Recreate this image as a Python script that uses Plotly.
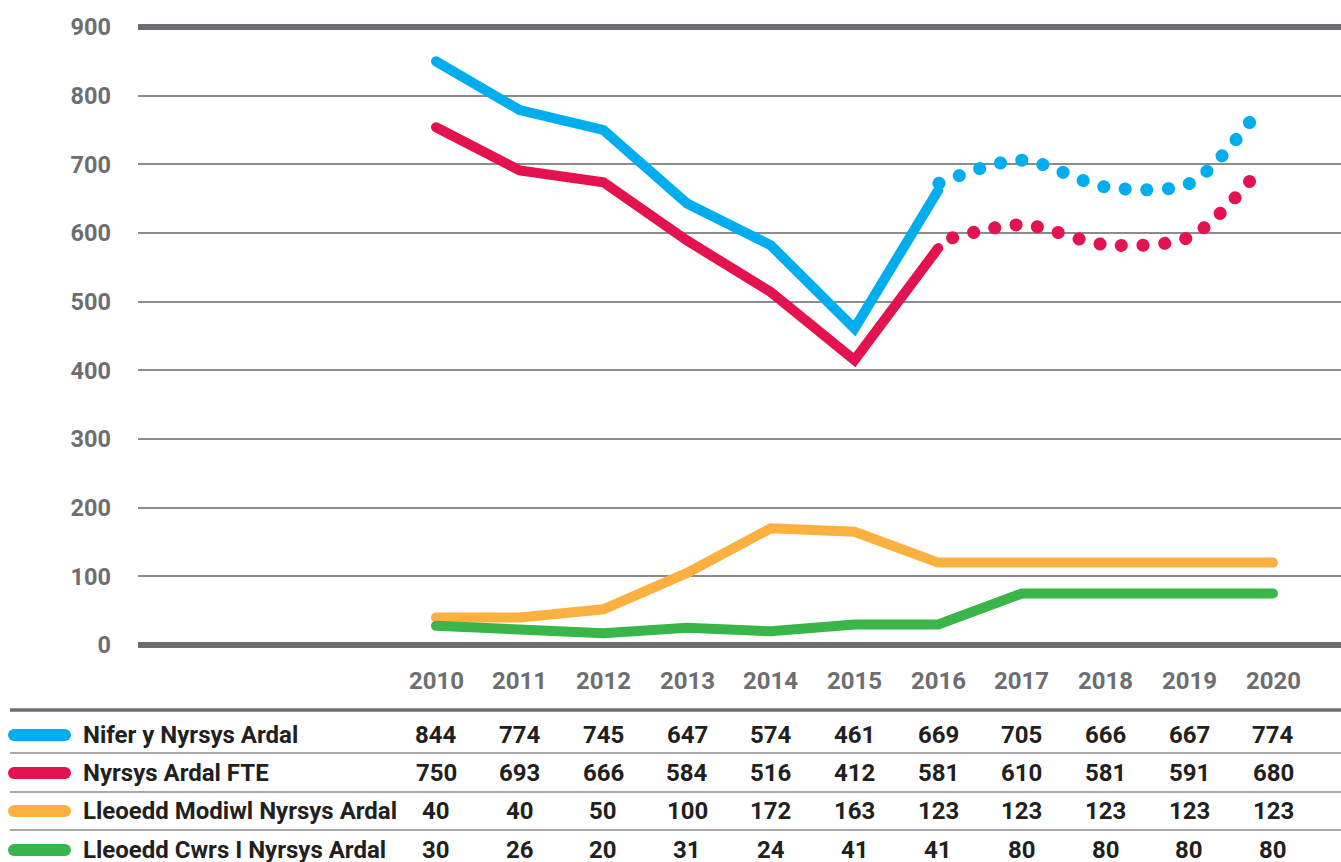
import plotly.graph_objects as go

# ---------------- data ----------------
years = [2010, 2011, 2012, 2013, 2014, 2015, 2016, 2017, 2018, 2019, 2020]
series_names = ["Nifer y Nyrsys Ardal", "Nyrsys Ardal FTE",
                "Lleoedd Modiwl Nyrsys Ardal", "Lleoedd Cwrs I Nyrsys Ardal"]

# values printed in the table
table_nifer = [844, 774, 745, 647, 574, 461, 669, 705, 666, 667, 774]
table_fte = [750, 693, 666, 584, 516, 412, 581, 610, 581, 591, 680]
table_modiwl = [40, 40, 50, 100, 172, 163, 123, 123, 123, 123, 123]
table_cwrs = [30, 26, 20, 31, 24, 41, 41, 80, 80, 80, 80]

# values as drawn in the chart
solid_years = [2010, 2011, 2012, 2013, 2014, 2015, 2016]
nifer_solid = [850, 779, 750, 643, 582, 461, 662]
fte_solid = [754, 691, 674, 589, 514, 415, 578]
proj_years = [2016, 2017, 2018, 2019, 2019.72]
nifer_proj = [672, 706, 667, 672, 761]
fte_proj = [587, 612, 583, 594, 675]
modiwl_line = [40, 40, 52, 105, 170, 165, 120, 120, 120, 120, 120]
cwrs_line = [28, 23, 17, 25, 20, 30, 30, 75, 75, 75, 75]

y_ticks = [0, 100, 200, 300, 400, 500, 600, 700, 800, 900]

BLUE = "#00AEEF"
RED = "#E2134F"
ORANGE = "#FBB040"
GREEN = "#39B54A"
GRAY = "#6D6E71"
GRID = "#8C8C8C"
TXT = "#231F20"

W, H = 1341, 862
ML, MR, MT, MB = 138, 0, 27, 217
PW, PH = W - ML - MR, H - MT - MB


def px_x(px):
    return (px - ML) / PW


def px_y(py):
    return (H - MB - py) / PH


fig = go.Figure()

fig.add_trace(go.Scatter(x=years, y=modiwl_line, mode="lines",
                         line=dict(color=ORANGE, width=10), hoverinfo="skip"))
fig.add_trace(go.Scatter(x=years, y=cwrs_line, mode="lines",
                         line=dict(color=GREEN, width=10), hoverinfo="skip"))
fig.add_trace(go.Scatter(x=solid_years, y=fte_solid, mode="lines",
                         line=dict(color=RED, width=10), hoverinfo="skip"))
# dotted projections are drawn from their end backwards so a dot sits at the end
fig.add_trace(go.Scatter(x=proj_years[::-1], y=fte_proj[::-1], mode="lines",
                         line=dict(color=RED, width=13, shape="spline",
                                   smoothing=0.85, dash="0.1px,21.5px"),
                         hoverinfo="skip"))
fig.add_trace(go.Scatter(x=solid_years, y=nifer_solid, mode="lines",
                         line=dict(color=BLUE, width=10), hoverinfo="skip"))
fig.add_trace(go.Scatter(x=proj_years[::-1], y=nifer_proj[::-1], mode="lines",
                         line=dict(color=BLUE, width=13, shape="spline",
                                   smoothing=0.85, dash="0.1px,21.5px"),
                         hoverinfo="skip"))

shapes = []
# thick lines at 0 and 900
for yy in (0, 1):
    shapes.append(dict(type="line", xref="paper", yref="paper", x0=0, x1=1,
                       y0=yy, y1=yy, line=dict(color=GRAY, width=6), layer="above"))

annotations = []
font_tick = dict(family="Roboto", size=23.5, color=GRAY, weight=700)
font_year = dict(family="Roboto", size=24, color=GRAY, weight=700)
font_tab = dict(family="Roboto", size=24, color=TXT, weight=700)

# year labels
for yr in years:
    annotations.append(dict(x=yr, xref="x", y=px_y(681), yref="paper", text=str(yr),
                            showarrow=False, font=font_year, xanchor="center",
                            yanchor="middle"))

# table separators
shapes.append(dict(type="line", xref="paper", yref="paper", x0=px_x(10), x1=1,
                   y0=px_y(710), y1=px_y(710), line=dict(color=GRAY, width=3.5)))
for py in (753, 792, 830):
    shapes.append(dict(type="line", xref="paper", yref="paper", x0=px_x(10), x1=1,
                       y0=px_y(py), y1=px_y(py), line=dict(color=GRID, width=1.5)))

rows = [(series_names[0], table_nifer, BLUE, 735),
        (series_names[1], table_fte, RED, 773),
        (series_names[2], table_modiwl, ORANGE, 811),
        (series_names[3], table_cwrs, GREEN, 850)]
for name, vals, col, py in rows:
    shapes.append(dict(type="line", xref="paper", yref="paper", x0=px_x(14), x1=px_x(65),
                       y0=px_y(py), y1=px_y(py), line=dict(color=col, width=12)))
    annotations.append(dict(x=px_x(81), xref="paper", y=px_y(py), yref="paper", text=name,
                            showarrow=False, font=font_tab, xanchor="left", yanchor="middle"))
    for yr, v in zip(years, vals):
        annotations.append(dict(x=yr, xref="x", y=px_y(py), yref="paper", text=str(v),
                                showarrow=False, font=font_tab, xanchor="center",
                                yanchor="middle"))

x0 = 2010 - (436 - ML) / 83.7
x1 = 2020 + (W - 1273) / 83.7

fig.update_layout(
    width=W, height=H,
    margin=dict(l=ML, r=MR, t=MT, b=MB, pad=0),
    paper_bgcolor="white", plot_bgcolor="white",
    showlegend=False,
    xaxis=dict(range=[x0, x1], showgrid=False, showticklabels=False, zeroline=False,
               showline=False, fixedrange=True),
    yaxis=dict(range=[0, 900], tickvals=y_ticks, showgrid=True, gridcolor=GRID,
               gridwidth=1.5, zeroline=False, showline=False, tickfont=font_tick,
               ticklabelstandoff=26, fixedrange=True),
    shapes=shapes,
    annotations=annotations,
)

post = """
document.body.style.margin = '0';
document.body.style.overflow = 'hidden';
var gd = document.getElementById('{plot_id}');
function fixCaps(){
  document.querySelectorAll('.js-line').forEach(function(p){ p.style.strokeLinecap='round'; });
  document.querySelectorAll('.shapelayer path').forEach(function(p){
    if (parseFloat(p.style.strokeWidth) === 12) { p.style.strokeLinecap='round'; }
  });
}
fixCaps();
gd.on('plotly_afterplot', fixCaps);
"""

fig.write_html("out.html", post_script=post, config=dict(displayModeBar=False))
